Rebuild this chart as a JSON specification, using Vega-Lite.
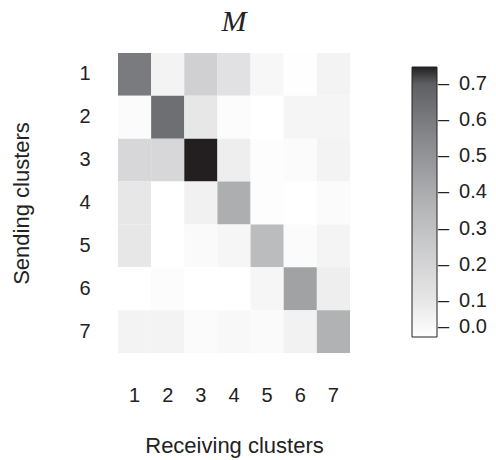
{
  "$schema": "https://vega.github.io/schema/vega-lite/v6.json",
  "autosize": {"type": "none"},
  "width": 232,
  "height": 300,
  "padding": {"left": 118, "top": 53, "right": 146, "bottom": 107},
  "background": "white",
  "title": {"text": "M", "font": "Liberation Serif", "fontStyle": "italic", "fontWeight": "normal", "fontSize": 30, "color": "#222", "offset": 16, "anchor": "middle"},
  "data": {"values": [
    {"s": 1, "r": 1, "v": 0.60}, {"s": 1, "r": 2, "v": 0.05}, {"s": 1, "r": 3, "v": 0.22}, {"s": 1, "r": 4, "v": 0.13}, {"s": 1, "r": 5, "v": 0.033}, {"s": 1, "r": 6, "v": 0.004}, {"s": 1, "r": 7, "v": 0.05},
    {"s": 2, "r": 1, "v": 0.017}, {"s": 2, "r": 2, "v": 0.643}, {"s": 2, "r": 3, "v": 0.10}, {"s": 2, "r": 4, "v": 0.0125}, {"s": 2, "r": 5, "v": 0.0}, {"s": 2, "r": 6, "v": 0.042}, {"s": 2, "r": 7, "v": 0.042},
    {"s": 3, "r": 1, "v": 0.185}, {"s": 3, "r": 2, "v": 0.185}, {"s": 3, "r": 3, "v": 0.747}, {"s": 3, "r": 4, "v": 0.071}, {"s": 3, "r": 5, "v": 0.008}, {"s": 3, "r": 6, "v": 0.017}, {"s": 3, "r": 7, "v": 0.05},
    {"s": 4, "r": 1, "v": 0.10}, {"s": 4, "r": 2, "v": 0.0}, {"s": 4, "r": 3, "v": 0.058}, {"s": 4, "r": 4, "v": 0.39}, {"s": 4, "r": 5, "v": 0.008}, {"s": 4, "r": 6, "v": 0.0}, {"s": 4, "r": 7, "v": 0.017},
    {"s": 5, "r": 1, "v": 0.10}, {"s": 5, "r": 2, "v": 0.0}, {"s": 5, "r": 3, "v": 0.021}, {"s": 5, "r": 4, "v": 0.0375}, {"s": 5, "r": 5, "v": 0.324}, {"s": 5, "r": 6, "v": 0.017}, {"s": 5, "r": 7, "v": 0.046},
    {"s": 6, "r": 1, "v": 0.0}, {"s": 6, "r": 2, "v": 0.0125}, {"s": 6, "r": 3, "v": 0.0}, {"s": 6, "r": 4, "v": 0.0}, {"s": 6, "r": 5, "v": 0.0375}, {"s": 6, "r": 6, "v": 0.442}, {"s": 6, "r": 7, "v": 0.071},
    {"s": 7, "r": 1, "v": 0.05}, {"s": 7, "r": 2, "v": 0.05}, {"s": 7, "r": 3, "v": 0.017}, {"s": 7, "r": 4, "v": 0.029}, {"s": 7, "r": 5, "v": 0.021}, {"s": 7, "r": 6, "v": 0.054}, {"s": 7, "r": 7, "v": 0.37}
  ]},
  "mark": {"type": "rect"},
  "encoding": {
    "x": {"field": "r", "type": "ordinal", "scale": {"paddingInner": 0, "paddingOuter": 0},
      "axis": {"title": "Receiving clusters", "labelAngle": 0, "ticks": false, "domain": false, "labelPadding": 32, "labelFontSize": 20, "labelFont": "Liberation Sans", "labelColor": "#222", "titleFont": "Liberation Sans", "titleFontSize": 22, "titleFontWeight": "normal", "titleColor": "#222", "titlePadding": 30}},
    "y": {"field": "s", "type": "ordinal", "scale": {"paddingInner": 0, "paddingOuter": 0},
      "axis": {"title": "Sending clusters", "ticks": false, "domain": false, "labelPadding": 28, "labelFontSize": 20, "labelFont": "Liberation Sans", "labelColor": "#222", "titleFont": "Liberation Sans", "titleFontSize": 22, "titleFontWeight": "normal", "titleColor": "#222", "titlePadding": 45}},
    "color": {"field": "v", "type": "quantitative",
      "scale": {"domain": [0, 0.1, 0.2, 0.3, 0.4, 0.5, 0.6, 0.7, 0.747], "range": ["#ffffff", "#e7e7e8", "#d4d4d6", "#c0c1c3", "#abacae", "#939497", "#7a7b7e", "#5e5f62", "#231f20"], "interpolate": "rgb", "nice": false, "zero": false},
      "legend": {"title": null, "orient": "none", "legendX": 294, "legendY": 14, "gradientLength": 270, "gradientThickness": 25, "gradientStrokeColor": "#222", "gradientStrokeWidth": 1, "values": [0, 0.1, 0.2, 0.3, 0.4, 0.5, 0.6, 0.7], "labelExpr": "'–\u2002' + format(datum.value, '.1f')", "labelFont": "Liberation Sans", "labelFontSize": 20, "labelColor": "#222", "labelOffset": 1, "labelOverlap": false}}
  },
  "config": {"view": {"stroke": null}}
}
